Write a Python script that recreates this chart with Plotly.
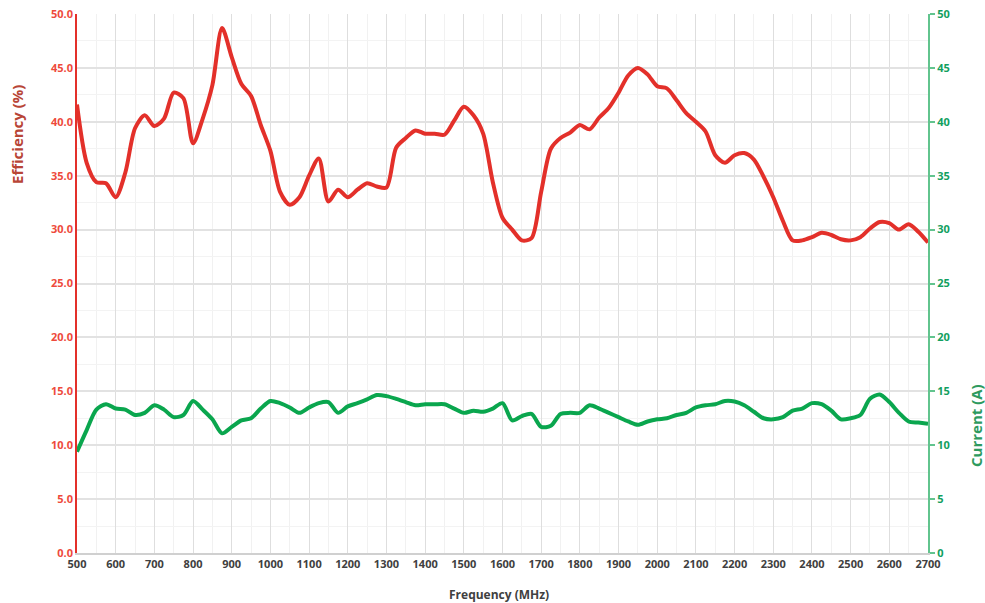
import plotly.graph_objects as go

freq_mhz = list(range(500, 2701, 25))

efficiency_pct = [
    41.6, 36.2, 34.4, 34.3, 33.0, 35.3, 39.4, 40.6, 39.6, 40.3,
    42.7, 42.2, 38.0, 40.3, 43.4, 48.7, 46.0, 43.5, 42.4, 39.7,
    37.3, 33.5, 32.3, 33.0, 35.0, 36.6, 32.6, 33.7, 33.0, 33.7,
    34.3, 34.0, 33.9, 37.6, 38.5, 39.2, 38.9, 38.9, 38.8, 40.1,
    41.4, 40.6, 38.9, 34.4, 31.1, 30.0, 29.0, 29.2, 33.5, 37.5,
    38.5, 39.0, 39.7, 39.3, 40.4, 41.3, 42.7, 44.3, 45.0, 44.4,
    43.3, 43.1, 42.0, 40.8, 40.0, 39.1, 36.9, 36.2, 36.9, 37.1,
    36.5, 34.9, 33.0, 30.8, 29.0, 29.0, 29.3, 29.7, 29.5, 29.1,
    29.0, 29.3, 30.1, 30.7, 30.6, 30.0, 30.5, 29.8, 28.8,
]

current_a = [
    9.4, 11.4, 13.3, 13.8, 13.4, 13.3, 12.8, 13.0, 13.7, 13.3,
    12.6, 12.8, 14.1, 13.3, 12.4, 11.1, 11.7, 12.3, 12.5, 13.4,
    14.1, 13.9, 13.5, 13.0, 13.5, 13.9, 14.0, 13.0, 13.6, 13.9,
    14.25, 14.65, 14.55, 14.3, 14.0, 13.7, 13.8, 13.8, 13.8, 13.4,
    13.0, 13.2, 13.1, 13.4, 13.9, 12.3, 12.7, 12.9, 11.7, 11.8,
    12.9, 13.0, 13.0, 13.7, 13.4, 13.0, 12.6, 12.2, 11.9, 12.2,
    12.4, 12.5, 12.8, 13.0, 13.5, 13.7, 13.8, 14.1, 14.05, 13.7,
    13.1, 12.5, 12.4, 12.6, 13.2, 13.4, 13.9, 13.8, 13.2, 12.4,
    12.5, 12.8, 14.3, 14.7, 14.0, 13.0, 12.2, 12.1, 12.0,
]

x_ticks = list(range(500, 2701, 100))
left_ticks = [i * 5.0 for i in range(11)]
right_ticks = [i * 5 for i in range(11)]

RED = "#e3302a"
RED_TXT = "#ee4a3c"
RED_TITLE = "#b84536"
GREEN = "#0aa64e"
GREEN_TXT = "#12a060"
GREEN_AX = "#62c48e"
FONT = "Open Sans"

fig = go.Figure()
fig.add_trace(go.Scatter(
    x=freq_mhz, y=efficiency_pct, mode="lines", name="Efficiency",
    line=dict(color=RED, width=4, shape="spline", smoothing=0.8),
    yaxis="y",
))
fig.add_trace(go.Scatter(
    x=freq_mhz, y=current_a, mode="lines", name="Current",
    line=dict(color=GREEN, width=4, shape="spline", smoothing=0.8),
    yaxis="y2",
))

fig.update_layout(
    width=985, height=603,
    margin=dict(l=77, r=57, t=14, b=50, autoexpand=False),
    paper_bgcolor="white", plot_bgcolor="white",
    showlegend=False,
    font=dict(family=FONT, size=11, color="#404040"),
    xaxis=dict(
        range=[500, 2700], tickvals=x_ticks, ticktext=[str(v) for v in x_ticks],
        automargin=False,
        showgrid=True, gridcolor="#dedede", gridwidth=1,
        minor=dict(dtick=50, tick0=500, showgrid=True, gridcolor="#f1f1f1", gridwidth=1),
        showline=True, linecolor="#d0d0d0", linewidth=1.5,
        zeroline=False, ticks="",
        tickfont=dict(family=FONT, size=11, color="#404040", weight="bold"),
    ),
    yaxis=dict(
        range=[0, 50], tickvals=left_ticks, ticktext=[f"{v:.1f}" for v in left_ticks],
        automargin=False,
        showgrid=True, gridcolor="#e2e2e2", gridwidth=1.5,
        minor=dict(dtick=2.5, tick0=0, showgrid=True, gridcolor="#f3f3f3", gridwidth=1),
        showline=True, linecolor=RED, linewidth=1.5,
        zeroline=False, ticks="",
        tickfont=dict(family=FONT, size=11, color=RED_TXT, weight="bold"),
    ),
    yaxis2=dict(
        range=[0, 50], tickvals=right_ticks, ticktext=[str(v) for v in right_ticks],
        overlaying="y", side="right", automargin=False,
        showgrid=False, zeroline=False,
        showline=True, linecolor=GREEN_AX, linewidth=2,
        ticks="outside", ticklen=5, tickcolor=GREEN_AX, tickwidth=1.5,
        tickfont=dict(family=FONT, size=11, color=GREEN_TXT, weight="bold"),
    ),
    annotations=[
        dict(text="Frequency (MHz)", xref="paper", yref="paper", x=0.496, y=0,
             yshift=-41, xanchor="center", yanchor="middle", showarrow=False,
             font=dict(family=FONT, size=12, color="#404040", weight="bold")),
        dict(text="Efficiency (%)", xref="paper", yref="paper", x=0, y=(553 - 135) / 539,
             xshift=-60, xanchor="center", yanchor="middle", textangle=-90, showarrow=False,
             font=dict(family=FONT, size=15, color=RED_TITLE, weight="bold")),
        dict(text="Current (A)", xref="paper", yref="paper", x=1, y=(553 - 426) / 539,
             xshift=48, xanchor="center", yanchor="middle", textangle=-90, showarrow=False,
             font=dict(family=FONT, size=15, color="#2e9a5e", weight="bold")),
    ],
)

fig.write_html("out.html", config={"displayModeBar": False},
               post_script="document.body.style.margin='0';")
